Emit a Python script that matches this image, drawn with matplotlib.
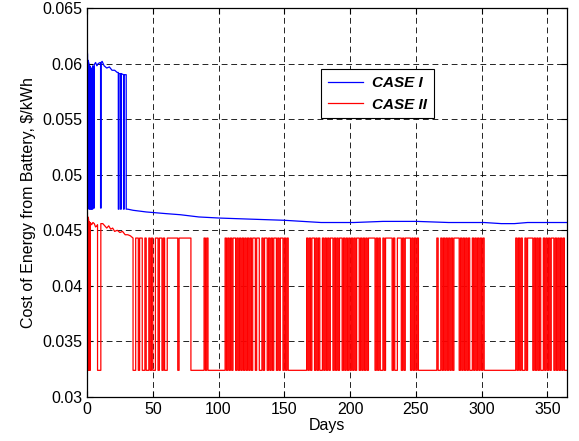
import numpy as np
import matplotlib
matplotlib.use('Agg')
import matplotlib.pyplot as plt

plt.rcParams['font.family'] = ['Liberation Sans', 'DejaVu Sans']

# CASE I (blue): cost, incl. the early drops
blue_days = [0, 0.4, 0.4, 0.8, 0.8, 1.5, 1.5, 2, 2, 2.6, 2.6, 3.2, 3.2, 3.8, 3.8, 4.3, 4.3, 5, 5,
             5.5, 5.5, 6.5, 7.5, 8.5, 10, 10.3, 10.3, 10.7, 10.7, 11.5, 13, 15, 17, 19, 21, 23,
             23.8, 23.8, 24.3, 24.3, 25.5, 25.5, 26, 26, 27.8, 27.8, 28.2, 28.2, 29.8, 29.8,
             31, 35, 45, 60, 71, 85, 101, 125, 150, 178, 203, 225, 251, 275, 302, 315, 325,
             335, 365]
blue_cost = [0.0614, 0.0608, 0.0470, 0.0470, 0.0603, 0.0600, 0.0469, 0.0469, 0.0598, 0.0597,
             0.0469, 0.0469, 0.0596, 0.0595, 0.0469, 0.0469, 0.0598, 0.0597, 0.0470, 0.0470,
             0.0599, 0.0601, 0.0598, 0.0600, 0.0601, 0.0600, 0.0470, 0.0470, 0.0601, 0.0602,
             0.0598, 0.0596, 0.0597, 0.0594, 0.0594, 0.0592, 0.0592, 0.0469, 0.0469, 0.0591,
             0.0591, 0.0469, 0.0469, 0.0591, 0.0590, 0.0469, 0.0469, 0.0590, 0.0590, 0.0469,
             0.0469, 0.0468, 0.04665, 0.0465, 0.0464, 0.0462, 0.0461, 0.0460, 0.0459, 0.0457,
             0.0457, 0.0458, 0.0458, 0.0457, 0.0457, 0.0456, 0.0456, 0.0457, 0.0457]

# CASE II (red): first 35 days
red_early_days = [0, 0.3, 0.3, 0.7, 0.7, 1.2, 1.2, 1.6, 1.6, 2.2, 2.2, 2.5, 2.5, 3.5, 4.5, 5.5,
                  6.5, 7.5, 8, 8, 10.5, 10.5, 12, 13.5, 15, 16.5, 18, 19.5, 21, 23, 25, 27, 29,
                  31, 33, 35]
red_early_cost = [0.0469, 0.0466, 0.0324, 0.0324, 0.0462, 0.0460, 0.0324, 0.0324, 0.0458,
                  0.0456, 0.0324, 0.0324, 0.0457, 0.0455, 0.0457, 0.0456, 0.0453, 0.0454,
                  0.0455, 0.0324, 0.0324, 0.0456, 0.0456, 0.0454, 0.0452, 0.0454, 0.0451,
                  0.0452, 0.0449, 0.0450, 0.0448, 0.0449, 0.0446, 0.0446, 0.0445, 0.0443]

# CASE II from day 35 on: one letter per day, H = high tariff, L = low tariff
red_high = 0.0443
red_low = 0.0324
red_start = 35
red_pattern = ("LLHHLHHLLHLLHLHLLHHLHHLHLL"          # 35-60
               "HHHHHHHHLHHHHHHHHH"                  # 61-78
               "LLLLLLLLLLHLHLLLLLLLLLLLLL"          # 79-104
               "HLHLHLHHLHLHLHLHLH"                  # 105-122
               "LHLHHLHHLLHLHHLHLHLHHLHLHHLHLHL"     # 123-153
               "LLLLLLLLLLLLL"                       # 154-166
               "HLHLHHLHLHLLHLHLHLHHLHL"             # 167-189
               "HLHHLHLHLHLHLHLHH"                   # 190-206
               "LHLHLHL" "HHHHH" "LHLHLLHL" "HHHHH"  # 207-231
               "LHLL" "HHH" "LHL" "HHHH" "LHLHL" "H" # 232-251
               "LLLLLLLLLLLLLLHLL"                   # 252-268
               "HLHLHLHLHL" "HHHH" "LHLHLHLHLL"      # 269-292
               "HLHLHLHLH"                           # 293-301
               "LLLLLLLLLLLLLLLLLLLLLLLL"            # 302-325
               "HLHLHLLHLH" "HHH" "LHLHLHLLHLHLHL"   # 326-352
               "HHL" "HLHLHLHLL")                    # 353-364

y_ticks = [0.03, 0.035, 0.04, 0.045, 0.05, 0.055, 0.06, 0.065]
y_tick_labels = ['0.03', '0.035', '0.04', '0.045', '0.05', '0.055', '0.06', '0.065']
x_ticks = [0, 50, 100, 150, 200, 250, 300, 350]

red_days = list(red_early_days)
red_cost = list(red_early_cost)
for i, c in enumerate(red_pattern):
    lvl = red_high if c == 'H' else red_low
    red_days += [red_start + i, red_start + i + 1]
    red_cost += [lvl, lvl]

fig = plt.figure(figsize=(5.79, 4.41), dpi=100)
ax = fig.add_axes([0.1503, 0.0998, 0.829, 0.882])

ax.plot(blue_days, blue_cost, color='#0000ff', lw=0.9, label='CASE I')
ax.plot(red_days, red_cost, color='#ff0000', lw=0.9, label='CASE II')

ax.set_xlim(0, 365)
ax.set_ylim(0.03, 0.065)
ax.set_xticks(x_ticks)
ax.set_yticks(y_ticks)
ax.set_yticklabels(y_tick_labels)
ax.tick_params(direction='in', top=True, right=True, length=4, labelsize=11.5)
ax.grid(True, color='k', linestyle=(0, (7, 4.5)), lw=0.6)
for s in ax.spines.values():
    s.set_linewidth(0.9)

ax.set_xlabel('Days', fontsize=11.5, labelpad=1)
ax.set_ylabel('Cost of Energy from Battery, \\$/kWh', fontsize=11.5)

leg = ax.legend(loc='upper left', bbox_to_anchor=(0.4875, 0.843),
                prop=dict(weight='bold', style='italic', size=11),
                fancybox=False, edgecolor='k', framealpha=1, borderaxespad=0,
                handlelength=2.3, handletextpad=0.6, borderpad=0.45, labelspacing=0.5)
leg.get_frame().set_linewidth(0.8)

fig.savefig('out.png', dpi=100)
